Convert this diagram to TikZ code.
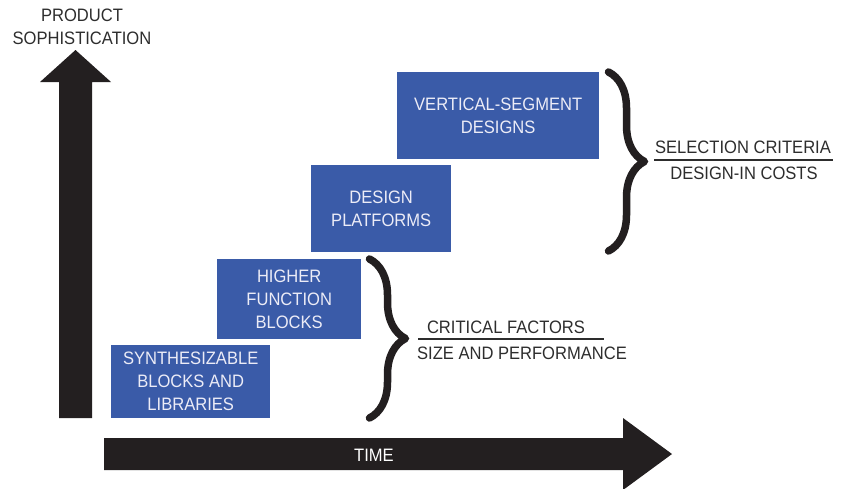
\documentclass[tikz,border=0pt]{standalone}
\usepackage{fontspec}
\setmainfont{Liberation Sans}[FakeStretch=0.92]
\usetikzlibrary{decorations.pathreplacing}
\definecolor{stageblue}{RGB}{58,91,168}
\definecolor{stagetext}{RGB}{236,236,247}
\definecolor{arrowblack}{RGB}{35,31,32}
\definecolor{notegray}{RGB}{45,45,45}

\begin{document}
\begin{tikzpicture}[x=1pt,y=-1pt]
\tikzstyle{stage}=[rectangle, fill=stageblue, text=stagetext, align=center, inner sep=0pt, anchor=north west, font=\fontsize{18}{23}\selectfont]
\tikzstyle{bigarrow}=[fill=arrowblack]
\tikzstyle{note}=[text=notegray, align=center, font=\fontsize{18}{23}\selectfont]
\tikzstyle{bracket}=[draw=arrowblack, line width=7.5pt, line cap=round, line join=round, decorate, decoration={brace, amplitude=36pt}]
\tikzstyle{rule}=[draw=notegray, line width=1.5pt]
\useasboundingbox (0,0) rectangle (843,488);
% axes
\fill[bigarrow] (59,418) -- (59,82) -- (40,82) -- (75.5,50) -- (111,82) -- (92,82) -- (92,418) -- cycle;
\fill[bigarrow] (104,438) -- (623,438) -- (623,418) -- (672,454) -- (623,490) -- (623,470) -- (104,470) -- cycle;
\node[note] (yaxis) at (82,27) {PRODUCT\\SOPHISTICATION};
\node[note, text=white] (xaxis) at (374,455) {TIME};
% stages
\node[stage, minimum width=159pt, minimum height=73pt] (synth) at (111,345) {SYNTHESIZABLE\\BLOCKS AND\\LIBRARIES};
\node[stage, minimum width=144pt, minimum height=80pt] (higher) at (217,259) {HIGHER\\FUNCTION\\BLOCKS};
\node[stage, minimum width=140pt, minimum height=87pt] (platform) at (311,165) {DESIGN\\PLATFORMS};
\node[stage, minimum width=202pt, minimum height=87pt] (vertical) at (397,72) {VERTICAL-SEGMENT\\DESIGNS};
% braces
\coordinate (lowtop) at (369.5,259);
\coordinate (lowbot) at (369.5,418);
\coordinate (uptop) at (608.5,72);
\coordinate (upbot) at (608.5,251);
\draw[bracket] (lowtop) -- (lowbot);
\draw[bracket] (uptop) -- (upbot);
% notes
\node[note] (critical) at (506,327) {CRITICAL FACTORS};
\node[note] (size) at (522,353) {SIZE AND PERFORMANCE};
\coordinate (critl) at (418,339);
\coordinate (critr) at (604,339);
\draw[rule] (critl) -- (critr);
\node[note] (selection) at (743,147) {SELECTION CRITERIA};
\node[note] (cost) at (744,173) {DESIGN-IN COSTS};
\coordinate (sell) at (654,160);
\coordinate (selr) at (833,160);
\draw[rule] (sell) -- (selr);
\end{tikzpicture}
\end{document}
